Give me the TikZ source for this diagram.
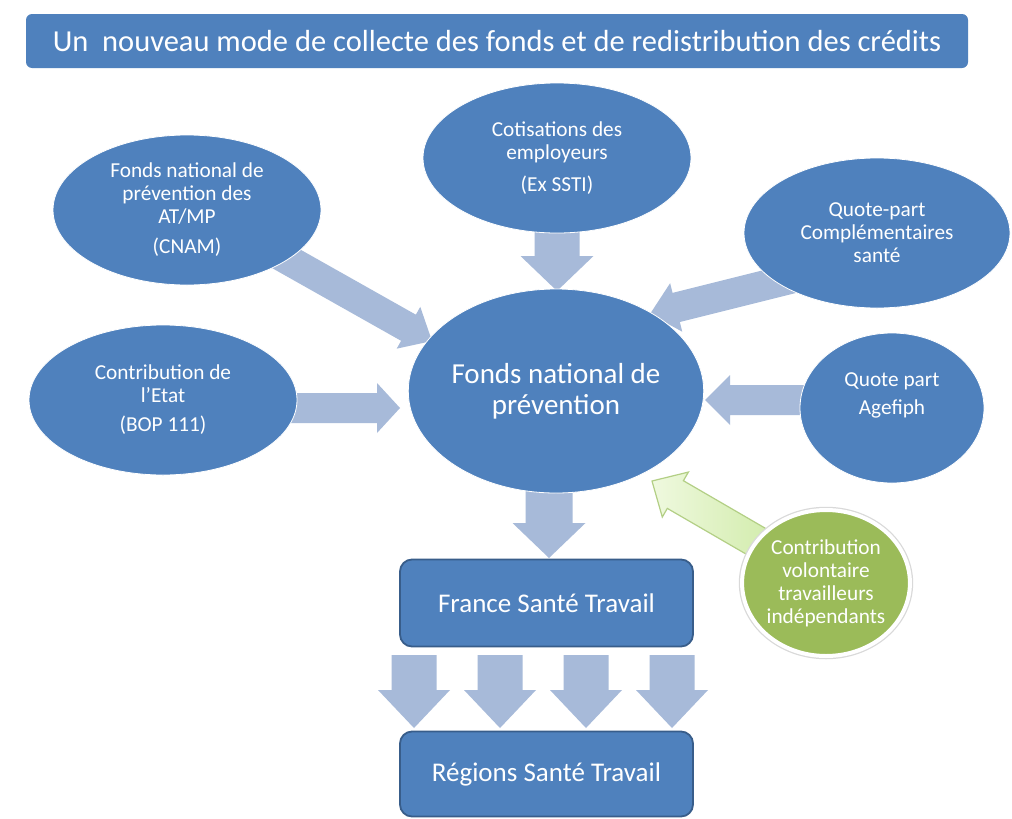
\documentclass[tikz,border=0pt]{standalone}
\usepackage{fontspec}
\setmainfont{Carlito}
\usetikzlibrary{shapes.geometric,calc}
\definecolor{bblue}{HTML}{4F81BD}
\definecolor{bdark}{HTML}{385D8A}
\definecolor{barrow}{HTML}{A7BAD9}
\definecolor{ggreen}{HTML}{9BBB59}
\definecolor{garrowlight}{HTML}{EFF9DF}
\definecolor{garrowdark}{HTML}{D2ECAC}
\definecolor{garrowline}{HTML}{B3CF85}
% block arrow: style, from, to, shaft half width, head half width, head length
\newcommand\blockarr[6]{%
  \coordinate (bh) at ($(#3)!#6!(#2)$);
  \path[#1] ($(#2)!#4!90:(#3)$) -- ($(bh)!#4!90:(#3)$) -- ($(bh)!#5!90:(#3)$) -- (#3)
    -- ($(bh)!#5!-90:(#3)$) -- ($(bh)!#4!-90:(#3)$) -- ($(#2)!#4!-90:(#3)$) -- cycle;
}
\begin{document}
\begin{tikzpicture}[x=1pt,y=-1pt,
  ell/.style={ellipse, fill=bblue, draw=white, line width=0.8pt, inner sep=0pt,
    text=white, align=center, font=\fontsize{21.3}{23}\selectfont},
  txtst/.style={text=white, align=center, font=\fontsize{21.3}{23}\selectfont},
  boxst/.style={rectangle, rounded corners=12pt, fill=bblue, draw=bdark, line width=1.8pt,
    text=white, font=\fontsize{27}{30}\selectfont, minimum width=293pt, minimum height=87pt},
  arr/.style={fill=barrow, draw=none},
  garr/.style={left color=garrowlight, right color=garrowdark,
    draw=garrowline, line width=1.2pt, line join=miter}]
\useasboundingbox (0,0) rectangle (1012,819);
\fill[white] (0,0) rectangle (1012,819);

% arrow end points
\coordinate (a1s) at (267,248);  \coordinate (a1e) at (432,341);
\coordinate (a2s) at (557,225);  \coordinate (a2e) at (557,291);
\coordinate (a3s) at (810,274);  \coordinate (a3e) at (650,314);
\coordinate (a4s) at (280,408);  \coordinate (a4e) at (400,408);
\coordinate (a5s) at (820,400);  \coordinate (a5e) at (705,400);
\coordinate (a6s) at (764,546);  \coordinate (a6e) at (652,481);
\coordinate (a7s) at (549,470);  \coordinate (a7e) at (549,558);
\coordinate (d1s) at (414,655);  \coordinate (d1e) at (414,728);
\coordinate (d2s) at (500,655);  \coordinate (d2e) at (500,728);
\coordinate (d3s) at (586,655);  \coordinate (d3e) at (586,728);
\coordinate (d4s) at (672,655);  \coordinate (d4e) at (672,728);

\blockarr{arr}{a1s}{a1e}{15pt}{24pt}{27pt}
\blockarr{arr}{a2s}{a2e}{22.5pt}{36.5pt}{35pt}
\blockarr{arr}{a3s}{a3e}{15pt}{25pt}{27pt}
\blockarr{arr}{a4s}{a4e}{15pt}{25pt}{23pt}
\blockarr{arr}{a5s}{a5e}{15pt}{25pt}{25pt}
\blockarr{garr}{a6s}{a6e}{16pt}{26pt}{27pt}
\blockarr{arr}{a7s}{a7e}{23.5pt}{36.5pt}{35pt}
\blockarr{arr}{d1s}{d1e}{22.5pt}{36pt}{38pt}
\blockarr{arr}{d2s}{d2e}{22.5pt}{36pt}{38pt}
\blockarr{arr}{d3s}{d3e}{22.5pt}{36pt}{38pt}
\blockarr{arr}{d4s}{d4e}{22.5pt}{36pt}{38pt}

% title
\node[rectangle, rounded corners=6pt, fill=bblue, minimum width=942pt, minimum height=54pt,
  text=white, font=\fontsize{30.5}{33}\selectfont] (title) at (497,41)
  {Un~ nouveau mode de collecte des fonds et de redistribution des crédits};

% ellipses
\node[ell, minimum width=268pt, minimum height=150pt] (atmp) at (187,210)
  {Fonds national de\\prévention des\\AT/MP\\[7pt](CNAM)};
\node[ell, minimum width=268pt, minimum height=150pt] (cot) at (557,158)
  {Cotisations des\\employeurs\\[9pt](Ex SSTI)};
\node[ell, minimum width=266pt, minimum height=150pt] (qpc) at (877,233)
  {Quote-part\\Complémentaires\\santé};
\node[ell, minimum width=268pt, minimum height=150pt] (etat) at (163,400)
  {Contribution de\\l’Etat\\[6pt](BOP 111)};
\node[ell, minimum width=184pt, minimum height=150pt,
  label={[txtst, yshift=13pt]center:{Quote part\\[5pt]Agefiph}}] (age) at (892,408) {};
\node[ell, minimum width=290pt, minimum height=204pt, font=\fontsize{29}{31}\selectfont] (fnp) at (556,391)
  {Fonds national de\\prévention};
\node[ell, fill=ggreen, draw=white, line width=4pt, minimum width=164pt, minimum height=146pt,
  preaction={draw=black!15, line width=6.5pt}] (vol) at (826,583)
  {Contribution\\volontaire\\travailleurs\\indépendants};

% boxes
\node[boxst] (fst) at (546.5,603) {France Santé Travail};
\node[boxst, minimum height=85pt] (rst) at (546.5,774) {Régions Santé Travail};
\end{tikzpicture}
\end{document}
